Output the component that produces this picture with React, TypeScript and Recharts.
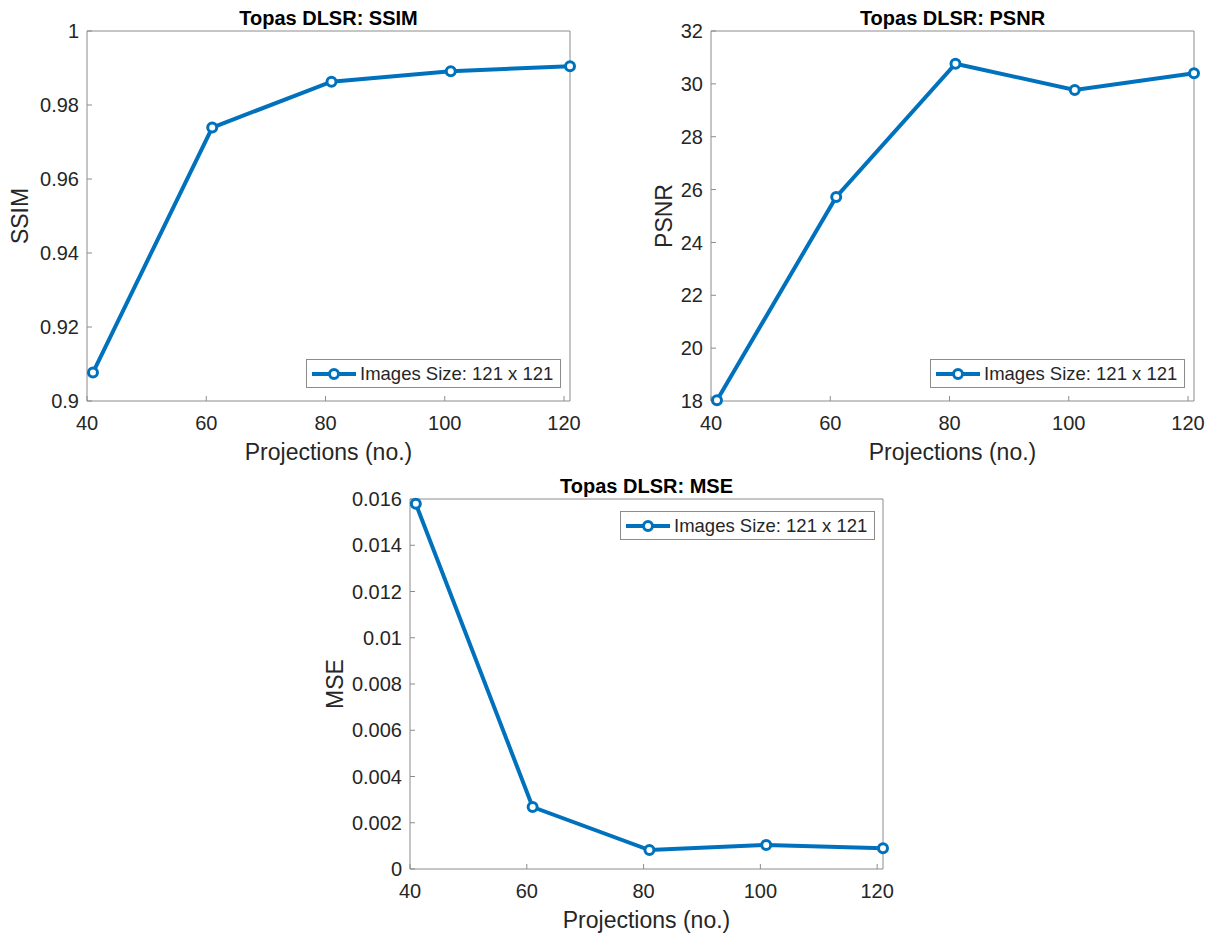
import { Legend, Line, LineChart, XAxis, YAxis } from "recharts";

const projections = [41, 61, 81, 101, 121];
const ssimValues = [0.9077, 0.9739, 0.9863, 0.9891, 0.9905];
const psnrValues = [18.03, 25.72, 30.76, 29.77, 30.4];
const mseValues = [0.01579, 0.00268, 0.00082, 0.00104, 0.0009];

const xTicks = [40, 60, 80, 100, 120];
const ssimTicks = [0.9, 0.92, 0.94, 0.96, 0.98, 1];
const psnrTicks = [18, 20, 22, 24, 26, 28, 30, 32];
const mseTicks = [0, 0.002, 0.004, 0.006, 0.008, 0.01, 0.012, 0.014, 0.016];

const seriesName = "Images Size: 121 x 121";
const BLUE = "#0072BD";
const AXIS = "#8c8c8c";
const TEXT = "#262626";
const FONT = '"Liberation Sans", Arial, Helvetica, sans-serif';

type Point = { projections: number; value: number };

const toPoints = (values: number[]): Point[] =>
  projections.map((p, i) => ({ projections: p, value: values[i] }));

const renderLegend = (props: any) => {
  const item = props.payload?.[0];
  const color = item?.color ?? BLUE;
  return (
    <div
      style={{
        display: "flex",
        alignItems: "center",
        border: `1px solid ${AXIS}`,
        background: "#fff",
        padding: "3px 7px 3px 3px",
        fontSize: 18.5,
        lineHeight: "21px",
        color: TEXT,
        whiteSpace: "nowrap",
      }}
    >
      <svg width={48} height={14} style={{ display: "block" }}>
        <line x1={2} x2={46} y1={7} y2={7} stroke={color} strokeWidth={4} />
        <circle cx={24} cy={7} r={4.5} fill="#fff" stroke={color} strokeWidth={3} />
      </svg>
      <span style={{ marginLeft: 2 }}>{item?.value}</span>
    </div>
  );
};

type PanelProps = {
  title: string;
  yLabel: string;
  values: number[];
  yTicks: number[];
  left: number;
  top: number;
  width: number;
  height: number;
  marginTop: number;
  marginRight: number;
  marginBottom: number;
  yAxisWidth: number;
  yLabelOffset: number;
  legendLeft: number;
  legendTop: number;
};

function MetricPanel(p: PanelProps) {
  const data = toPoints(p.values);
  const yDomain: [number, number] = [p.yTicks[0], p.yTicks[p.yTicks.length - 1]];
  const tickStyle = { fill: TEXT, fontSize: 20 };
  return (
    <div style={{ position: "absolute", left: p.left, top: p.top }}>
      <LineChart
        width={p.width}
        height={p.height}
        data={data}
        margin={{ top: p.marginTop, right: p.marginRight, bottom: p.marginBottom, left: 0 }}
      >
        <XAxis
          xAxisId="bottom"
          dataKey="projections"
          type="number"
          domain={[40, 121]}
          ticks={xTicks}
          interval={0}
          height={60}
          stroke={AXIS}
          tickSize={-5}
          tickMargin={20}
          tick={tickStyle}
          label={{ value: "Projections (no.)", position: "insideBottom", offset: 1, fill: TEXT, fontSize: 23 }}
        />
        <XAxis
          xAxisId="top"
          orientation="top"
          dataKey="projections"
          type="number"
          domain={[40, 121]}
          ticks={xTicks}
          interval={0}
          height={1}
          stroke={AXIS}
          tickSize={-5}
          tick={false}
          label={{ value: p.title, position: "top", offset: 5, fill: "#000", fontSize: 20, fontWeight: "bold" }}
        />
        <YAxis
          yAxisId="left"
          type="number"
          domain={yDomain}
          ticks={p.yTicks}
          interval={0}
          width={p.yAxisWidth}
          stroke={AXIS}
          tickSize={-5}
          tickMargin={13}
          tick={tickStyle}
          label={{
            value: p.yLabel,
            angle: -90,
            position: "insideLeft",
            offset: p.yLabelOffset,
            fill: TEXT,
            fontSize: 23,
            style: { textAnchor: "middle" },
          }}
        />
        <YAxis
          yAxisId="right"
          orientation="right"
          type="number"
          domain={yDomain}
          ticks={p.yTicks}
          interval={0}
          width={1}
          stroke={AXIS}
          tickSize={-5}
          tick={false}
        />
        <Legend
          content={renderLegend}
          layout="vertical"
          align="center"
          verticalAlign="middle"
          wrapperStyle={{ left: p.legendLeft, top: p.legendTop, width: "auto" }}
        />
        <Line
          xAxisId="bottom"
          yAxisId="left"
          dataKey="value"
          name={seriesName}
          stroke={BLUE}
          strokeWidth={4}
          dot={{ r: 4.5, stroke: BLUE, strokeWidth: 3, fill: "#fff" }}
          activeDot={false}
          isAnimationActive={false}
        />
      </LineChart>
    </div>
  );
}

export default function App() {
  return (
    <div
      style={{
        position: "absolute",
        left: 0,
        top: 0,
        width: 1212,
        height: 936,
        background: "#fff",
        fontFamily: FONT,
      }}
    >
      <MetricPanel
        title="Topas DLSR: SSIM"
        yLabel="SSIM"
        values={ssimValues}
        yTicks={ssimTicks}
        left={0}
        top={0}
        width={600}
        height={470}
        marginTop={30}
        marginRight={29}
        marginBottom={9}
        yAxisWidth={87}
        yLabelOffset={20}
        legendLeft={306}
        legendTop={359}
      />
      <MetricPanel
        title="Topas DLSR: PSNR"
        yLabel="PSNR"
        values={psnrValues}
        yTicks={psnrTicks}
        left={620}
        top={0}
        width={592}
        height={470}
        marginTop={30}
        marginRight={17}
        marginBottom={9}
        yAxisWidth={91}
        yLabelOffset={44}
        legendLeft={310}
        legendTop={359}
      />
      <MetricPanel
        title="Topas DLSR: MSE"
        yLabel="MSE"
        values={mseValues}
        yTicks={mseTicks}
        left={300}
        top={470}
        width={620}
        height={466}
        marginTop={28}
        marginRight={36}
        marginBottom={7}
        yAxisWidth={110}
        yLabelOffset={35}
        legendLeft={320}
        legendTop={41}
      />
    </div>
  );
}
